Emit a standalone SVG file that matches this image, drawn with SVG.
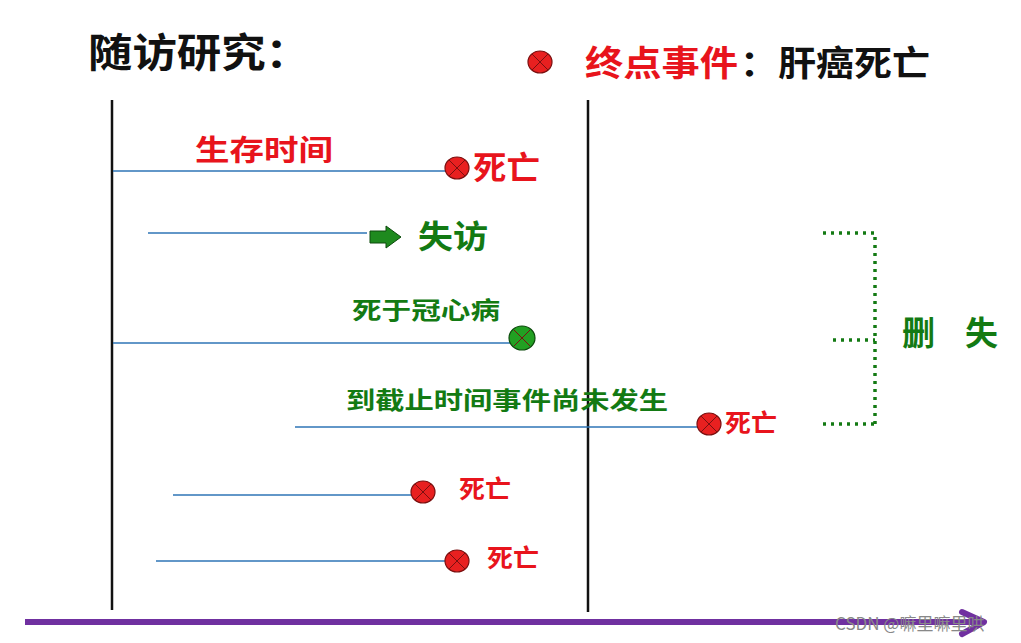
<svg xmlns="http://www.w3.org/2000/svg" width="1021" height="643" viewBox="0 0 1021 643">
<style>
text{font-family:"Noto Sans CJK SC","Noto Sans",sans-serif;font-weight:bold}
.r{fill:#e8141c}.g{fill:#137a13}.k{fill:#111}
.tl{stroke:#2e75b6;stroke-width:1.6}
.dot{stroke:#137a13;stroke-width:3.5;stroke-dasharray:3 5;fill:none}
.ev{fill:#e82020;stroke:#7a1010;stroke-width:1.2}
.x{stroke:#7a1010;stroke-width:1}
</style>
<defs>
<g id="evt"><ellipse class="ev" rx="12" ry="11"/><path class="x" d="M-8,-8L8,8M8,-8L-8,8"/></g>
</defs>
<rect width="1021" height="643" fill="#fff"/>
<g id="axes">
<line x1="112" y1="100" x2="112" y2="610" stroke="#111" stroke-width="2.5"/>
<line x1="588" y1="100" x2="588" y2="612" stroke="#111" stroke-width="2.5"/>
<line x1="25" y1="622" x2="978" y2="622" stroke="#7030a0" stroke-width="6"/>
<path d="M962,612L984,622L962,634" fill="none" stroke="#7030a0" stroke-width="6" stroke-linecap="round" stroke-linejoin="round"/>
</g>
<g id="title"><text x="88" y="67" font-size="40" class="k" textLength="222" lengthAdjust="spacingAndGlyphs">随访研究：</text></g>
<g id="legend"><use href="#evt" x="540" y="62"/><text x="585" y="76" font-size="35" class="r" textLength="153" lengthAdjust="spacingAndGlyphs">终点事件</text><text x="740" y="76" font-size="35" class="k" textLength="190" lengthAdjust="spacingAndGlyphs">：肝癌死亡</text></g>
<g id="connectors">
<line class="tl" x1="113" y1="171" x2="447" y2="171"/>
<line class="tl" x1="148" y1="233" x2="367" y2="233"/>
<line class="tl" x1="113" y1="343" x2="512" y2="343"/>
<line class="tl" x1="295" y1="427" x2="698" y2="427"/>
<line class="tl" x1="173" y1="495" x2="411" y2="495"/>
<line class="tl" x1="156" y1="561" x2="445" y2="561"/>
<path class="dot" d="M823,233H875V426M833,340H875M823,424H875"/>
</g>
<g id="n1"><text x="195" y="161" font-size="29" class="r" textLength="138" lengthAdjust="spacingAndGlyphs">生存时间</text><use href="#evt" x="457" y="168"/><text x="473" y="179" font-size="32" class="r" textLength="67" lengthAdjust="spacingAndGlyphs">死亡</text></g>
<g id="n2"><path d="M370,231H386V226L401,237L386,248V243H370Z" fill="#1e8a1e" stroke="#0c4a0c" stroke-width="1"/><text x="418" y="248" font-size="32" class="g" textLength="70" lengthAdjust="spacingAndGlyphs">失访</text></g>
<g id="n3"><text x="352" y="319" font-size="24" class="g" textLength="148" lengthAdjust="spacingAndGlyphs">死于冠心病</text><ellipse cx="522" cy="338" rx="13" ry="12" fill="#22a022" stroke="#0c4a0c" stroke-width="1.2"/><path class="x" d="M514,330L530,346M530,330L514,346" stroke="#0c4a0c"/></g>
<g id="n4"><text x="346" y="409" font-size="24" class="g" textLength="322" lengthAdjust="spacingAndGlyphs">到截止时间事件尚未发生</text><use href="#evt" x="709" y="424"/><text x="725" y="432" font-size="25" class="r" textLength="52" lengthAdjust="spacingAndGlyphs">死亡</text></g>
<g id="n5"><use href="#evt" x="423" y="492"/><text x="459" y="498" font-size="25" class="r" textLength="52" lengthAdjust="spacingAndGlyphs">死亡</text></g>
<g id="n6"><use href="#evt" x="457" y="561"/><text x="487" y="567" font-size="25" class="r" textLength="52" lengthAdjust="spacingAndGlyphs">死亡</text></g>
<g id="censor"><text x="902" y="345" font-size="33" class="g" xml:space="preserve">删<tspan x="965">失</tspan></text></g>
<text x="835" y="630" font-size="17" fill="#888" style="font-weight:normal">CSDN @嘛里嘛里哄</text>
</svg>
